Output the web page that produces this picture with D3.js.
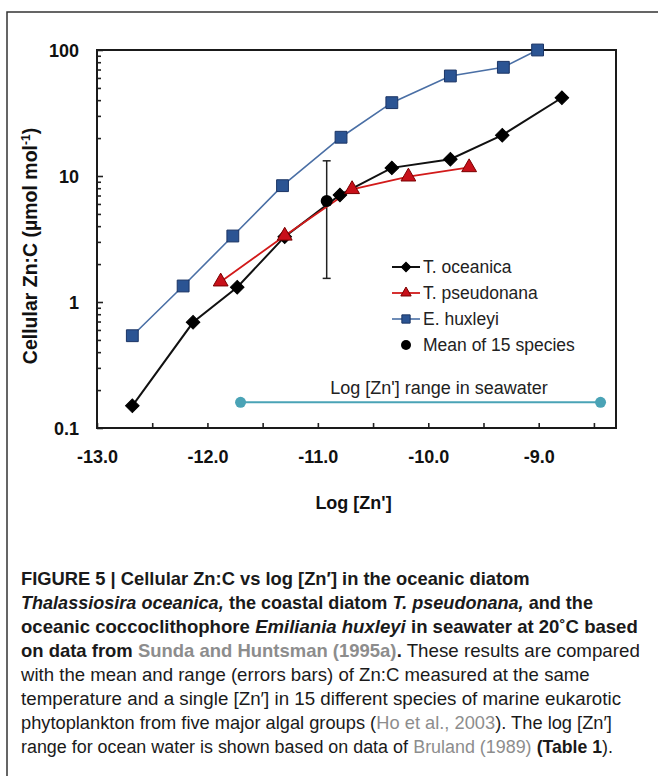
<!DOCTYPE html>
<html><head><meta charset="utf-8">
<script src="https://cdn.jsdelivr.net/npm/d3@7"></script>
<style>body{margin:0;background:#fff} svg{display:block} .cap{white-space:pre}</style>
</head><body><svg id="c" width="658" height="776"></svg>
<script>
// ---- data ----
const oceanicaX = [-12.68, -12.13, -11.73, -11.30, -10.80, -10.33, -9.80, -9.33, -8.79];
const oceanicaY = [0.15, 0.69, 1.31, 3.3, 7.07, 11.6, 13.6, 21.1, 41.8];
const pseudonanaX = [-11.88, -11.30, -10.69, -10.18, -9.63];
const pseudonanaY = [1.45, 3.35, 7.84, 9.87, 11.7];
const huxleyiX = [-12.68, -12.22, -11.77, -11.32, -10.79, -10.33, -9.80, -9.32, -9.01];
const huxleyiY = [0.54, 1.34, 3.34, 8.38, 20.3, 38.2, 62.2, 72.9, 100];
const meanX = [-10.92];
const meanY = [6.34];
const meanLow = [1.54];
const meanHigh = [13.2];
const rangeX = [-11.70, -8.44];
const rangeY = [0.16, 0.16];
const xTickValues = [-13, -12, -11, -10, -9];
const xMinorValues = [-12.5, -11.5, -10.5, -9.5, -8.5];
const yTickValues = [0.1, 1, 10, 100];
const yTickLabels = ["0.1", "1", "10", "100"];
const legendLabels = ["T. oceanica", "T. pseudonana", "E. huxleyi", "Mean of 15 species"];

const FONT = "'Liberation Sans', Arial, Helvetica, sans-serif";
const svg = d3.select("#c");
svg.append("rect").attr("width", 658).attr("height", 776).attr("fill", "#fff");
// figure frame
svg.append("path").attr("d", "M7,776V12H658").attr("fill", "none").attr("stroke", "#333").attr("stroke-width", 1.5);

const L = 97, R = 616, T = 50, B = 428;
const x = d3.scaleLinear().domain([-13, -8.3]).range([L, R]);
const y = d3.scaleLog().domain([0.1, 100]).range([B, T]);

// axes
const gx = svg.append("g").attr("transform", `translate(0,${B})`)
  .call(d3.axisBottom(x).tickValues(xTickValues).tickSize(-5).tickPadding(22)
    .tickFormat(d => d.toFixed(1)));
const gxm = svg.append("g").attr("transform", `translate(0,${B})`)
  .call(d3.axisBottom(x).tickValues(xMinorValues).tickSize(-5).tickFormat(""));
const yMinor = [];
[0.1, 1, 10].forEach(b => { for (let k = 2; k <= 9; k++) yMinor.push(b * k); });
const gy = svg.append("g").attr("transform", `translate(${L},0)`)
  .call(d3.axisLeft(y).tickValues(yTickValues).tickSize(-6).tickPadding(18)
    .tickFormat((d, i) => yTickLabels[i]));
const gym = svg.append("g").attr("transform", `translate(${L},0)`)
  .call(d3.axisLeft(y).tickValues(yMinor).tickSize(-4).tickFormat(""));
[gx, gxm, gy, gym].forEach(g => {
  g.select(".domain").remove();
  g.selectAll("line").attr("stroke", "#222").attr("stroke-width", 1.6);
  g.selectAll("text").attr("font-family", FONT).attr("font-weight", "bold")
    .attr("font-size", 18).attr("fill", "#111");
});
gx.selectAll("text").attr("dy", "0.71em");
gy.selectAll("text").attr("dy", "0.36em");

// frame of plot
svg.append("rect").attr("x", L).attr("y", T).attr("width", R - L).attr("height", B - T)
  .attr("fill", "none").attr("stroke", "#1a1a1a").attr("stroke-width", 2);

// axis titles
svg.append("text").attr("x", (L + R) / 2 - 3).attr("y", 509).attr("text-anchor", "middle")
  .attr("font-family", FONT).attr("font-weight", "bold").attr("font-size", 18).attr("fill", "#111")
  .text("Log [Zn']");
const yt = svg.append("text").attr("transform", "translate(37,246) rotate(-90)")
  .attr("text-anchor", "middle").attr("font-family", FONT).attr("font-weight", "bold")
  .attr("font-size", 19.5).attr("fill", "#111");
yt.append("tspan").text("Cellular Zn:C (µmol mol");
yt.append("tspan").attr("dy", -7).attr("font-size", 12).text("-1");
yt.append("tspan").attr("dy", 7).text(")");

// seawater range
const rangeColor = "#4aa3b6";
svg.append("line").attr("x1", x(rangeX[0])).attr("x2", x(rangeX[1]))
  .attr("y1", y(rangeY[0])).attr("y2", y(rangeY[1])).attr("stroke", rangeColor).attr("stroke-width", 2);
svg.selectAll(".rg").data(rangeX).enter().append("circle")
  .attr("cx", d => x(d)).attr("cy", (d, i) => y(rangeY[i])).attr("r", 5.5).attr("fill", rangeColor);
svg.append("text").attr("x", 439).attr("y", 394).attr("text-anchor", "middle")
  .attr("font-family", FONT).attr("font-size", 18).attr("fill", "#222")
  .text("Log [Zn'] range in seawater");

// error bar for mean
const eb = svg.append("g").attr("stroke", "#222").attr("stroke-width", 1.5);
meanX.forEach((mx, i) => {
  eb.append("line").attr("x1", x(mx)).attr("x2", x(mx)).attr("y1", y(meanLow[i])).attr("y2", y(meanHigh[i]));
  [meanLow[i], meanHigh[i]].forEach(v => eb.append("line").attr("x1", x(mx) - 4).attr("x2", x(mx) + 4)
    .attr("y1", y(v)).attr("y2", y(v)));
});

const line = d3.line().x(d => x(d[0])).y(d => y(d[1]));
const series = [
  { xs: oceanicaX, ys: oceanicaY, stroke: "#111", width: 2, fill: "#000", edge: "#000", shape: "diamond" },
  { xs: pseudonanaX, ys: pseudonanaY, stroke: "#d21a1a", width: 1.8, fill: "#c8101a", edge: "#7a0000", shape: "triangle" },
  { xs: huxleyiX, ys: huxleyiY, stroke: "#4a6fa5", width: 1.6, fill: "#2b5493", edge: "#1b3464", shape: "square" }
];
function marker(sel, shape, scale) {
  if (shape === "diamond") {
    sel.attr("d", d3.symbol(d3.symbolSquare, 92 * scale * scale)());
  } else if (shape === "triangle") {
    sel.attr("d", d3.symbol(d3.symbolTriangle, 95 * scale * scale)());
  } else {
    sel.attr("d", d3.symbol(d3.symbolSquare, 140 * scale * scale)());
  }
}
series.forEach(s => {
  const pts = s.xs.map((v, i) => [v, s.ys[i]]);
  svg.append("path").datum(pts).attr("d", line).attr("fill", "none")
    .attr("stroke", s.stroke).attr("stroke-width", s.width);
});
// mean point
svg.selectAll(".mean").data(meanX).enter().append("circle")
  .attr("cx", d => x(d)).attr("cy", (d, i) => y(meanY[i])).attr("r", 6).attr("fill", "#000");
series.forEach(s => {
  const pts = s.xs.map((v, i) => [v, s.ys[i]]);
  svg.append("g").selectAll("path").data(pts).enter().append("path")
    .each(function () { marker(d3.select(this), s.shape, 1); })
    .attr("transform", d => `translate(${x(d[0])},${y(d[1])})` + (s.shape === "diamond" ? " rotate(45)" : ""))
    .attr("fill", s.fill).attr("stroke", s.edge).attr("stroke-width", 1);
});

// legend
const lg = svg.append("g");
const rowY = [267, 293, 319, 345];
series.forEach((s, i) => {
  lg.append("line").attr("x1", 392).attr("x2", 420).attr("y1", rowY[i]).attr("y2", rowY[i])
    .attr("stroke", s.stroke).attr("stroke-width", s.width);
  lg.append("path").each(function () { marker(d3.select(this), s.shape, 0.7); })
    .attr("transform", `translate(406,${rowY[i]})` + (s.shape === "diamond" ? " rotate(45)" : ""))
    .attr("fill", s.fill).attr("stroke", s.edge).attr("stroke-width", 1);
});
lg.append("circle").attr("cx", 406).attr("cy", rowY[3]).attr("r", 5).attr("fill", "#000");
legendLabels.forEach((t, i) => {
  lg.append("text").attr("x", 423).attr("y", rowY[i]).attr("dy", "0.36em")
    .attr("font-family", FONT).attr("font-size", 17.5).attr("fill", "#222").text(t);
});

// caption
const GRAY = "#8d8d8d";
const caption = [
  [["FIGURE 5 | Cellular Zn:C vs log [Zn′] in the oceanic diatom", "b"]],
  [["Thalassiosira oceanica,", "bi"], [" the coastal diatom ", "b"], ["T. pseudonana,", "bi"], [" and the", "b"]],
  [["oceanic coccoclithophore ", "b"], ["Emiliania huxleyi", "bi"], [" in seawater at 20˚C based", "b"]],
  [["on data from ", "b"], ["Sunda and Huntsman (1995a)", "bg"], [".", "b"], [" These results are compared", ""]],
  [["with the mean and range (errors bars) of Zn:C measured at the same", ""]],
  [["temperature and a single [Zn′] in 15 different species of marine eukarotic", ""]],
  [["phytoplankton from five major algal groups (", ""], ["Ho et al., 2003", "g"], ["). The log [Zn′]", ""]],
  [["range for ocean water is shown based on data of ", ""], ["Bruland (1989)", "g"], [" ", ""], ["(Table 1", "b"], [").", ""]]
];
// right end of each caption line in the reference layout
const captionLineEnds = [530, 593, 638, 640, 590, 622, 612, 613];
const capX = 21, capY0 = 585, capLead = 24;
const capG = svg.append("g");
// calibrate bold vs regular horizontal compression from an all-bold and an all-regular line
function natWidth(txt, bold) {
  const t = svg.append("text").attr("class", "cap").attr("font-family", FONT).attr("font-size", 18)
    .attr("font-weight", bold ? "bold" : "normal").text(txt);
  const w = t.node().getComputedTextLength();
  t.remove();
  return w;
}
const sBold = (captionLineEnds[0] - capX) / natWidth(caption[0][0][0], true);
const sReg = (captionLineEnds[4] - capX) / natWidth(caption[4][0][0], false);
caption.forEach((parts, li) => {
  const g = capG.append("g");
  let cursor = 0;
  parts.forEach(([txt, st]) => {
    const t = g.append("text").attr("class", "cap").attr("xml:space", "preserve")
      .attr("font-family", FONT).attr("font-size", 18).attr("fill", st.includes("g") ? GRAY : "#1a1a1a")
      .attr("font-weight", st.includes("b") ? "bold" : "normal")
      .attr("font-style", st.includes("i") ? "italic" : "normal").text(txt);
    const f = st.includes("b") ? sBold : sReg;
    const w = t.node().getComputedTextLength() * f;
    t.attr("transform", `translate(${cursor},0) scale(${f},1)`);
    cursor += w;
  });
  const k = (captionLineEnds[li] - capX) / cursor;
  g.attr("transform", `translate(${capX},${capY0 + li * capLead}) scale(${k},1)`);
});
</script>
</body></html>
